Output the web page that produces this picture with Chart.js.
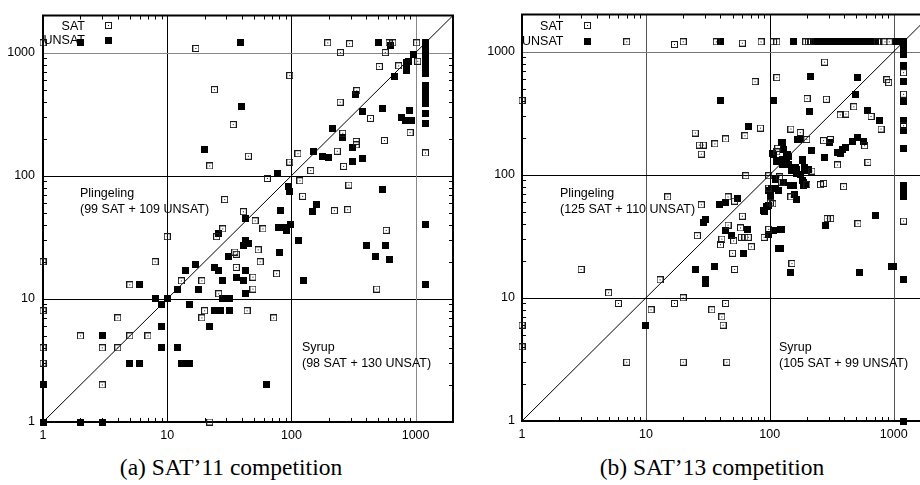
<!DOCTYPE html>
<html><head><meta charset="utf-8">
<script src="https://cdn.jsdelivr.net/npm/chart.js@4.4.0/dist/chart.umd.min.js"></script>
<style>
html,body{margin:0;padding:0;background:#fff;overflow:hidden;width:920px;height:485px;}
canvas{position:absolute;top:0;}
#c1{left:0;}
#c2{left:460px;}
.cap{position:absolute;font-family:"Liberation Serif","Times New Roman",serif;font-size:23.5px;color:#000;white-space:nowrap;transform:translate(-50%,-50%);}
</style></head><body>
<canvas id="c1" width="460" height="450"></canvas>
<canvas id="c2" width="478" height="450"></canvas>
<div class="cap" style="left:231px;top:467px;">(a) SAT’11 competition</div>
<div class="cap" style="left:712px;top:467px;">(b) SAT’13 competition</div>
<script>
// ---- axis ticks ----
const axisTicks = [1, 10, 100, 1000];
const tickLabels = ['1', '10', '100', '1000'];
const axisMin = 1, axisMax = 2000;
const diagonal = [[1, 1], [2000, 2000]];

// ---- SAT'11 ----
const sat11 = [[1,1200],[17,1080],[196,1200],[294,1180],[248,1000],[611,1200],[656,1200],[570,1000],[1020,1200],
[1040,850],[730,780],[510,770],[97,650],[24,500],[34,260],[22,120],[45,144],[336,490],[247,395],[433,292],[903,224],
[561,193],[259,221],[332,190],[332,178],[234,158],[263,119],[113,151],[97,129],[143,110],[64,95],[117,91],[290,84],
[123,68],[29,64],[222,52],[284,53],[41,51],[51,43],[1200,153],[28,37],[25,32],[10,32],[59,37],[54,25],[35,24],[36,23],
[56,20],[36,18],[8,20],[1,20],[49,15],[19,14],[13,14],[5,13],[26,11],[49,12],[1,8],[20,8],[44,8],[19,7],[72,7],[4,7],
[2,5],[5,5],[7,5],[1,4],[3,4],[4,4],[1,3],[3,2],[22,1],[580,36],[486,12],[76,16]];
const unsat11 = [[2,1200],[39,1200],[507,1200],[630,1150],[960,960],[850,820],[880,850],[850,720],[680,645],[840,830],
[40,363],[20,162],[328,455],[376,330],[544,352],[900,337],[764,298],[827,280],[930,280],[216,243],[259,205],[309,168],
[151,158],[179,144],[200,141],[376,137],[313,131],[77,104],[95,81],[96,74],[538,77],[158,58],[149,51],[81,52],[43,45],
[26,34],[79,38],[88,38],[91,36],[98,40],[114,30],[43,30],[45,28],[41,27],[31,22],[80,24],[17,19],[24,18],[26,17],[43,17],
[14,17],[36,15],[41,14],[28,14],[6,13],[12,12],[18,12],[43,11],[8,10],[10,10],[28,10],[32,10],[9,9],[15,9],[24,8],[27,8],
[32,8],[9,6],[22,6],[3,5],[9,4],[12,4],[5,3],[6,3],[13,3],[14,3],[15,3],[1,2],[63,2],[1,1],[2,1],[3,1],[1200,40],[571,27],
[400,27],[474,22],[614,21],[1200,13],[125,14],
[1200,1200],[1200,1150],[1200,1100],[1200,1050],[1200,1000],[1200,950],[1200,900],[1200,850],[1200,800],[1200,750],
[1200,700],[1200,670],[1200,540],[1200,510],[1200,480],[1200,450],[1200,420],[1200,400],[1200,385],[1200,320],[1200,266]];

// ---- SAT'13 ----
const sat13 = [[7,1200],[17,1140],[20,1200],[37,1200],[60,1170],[85,1200],[107,1200],[114,1200],[195,1200],[205,1200],
[215,1200],[740,1200],[850,1200],[920,1200],[1,400],[277,820],[880,590],[910,560],[1200,674],[1200,450],[1200,250],
[76,570],[114,614],[200,415],[286,410],[476,356],[370,306],[411,311],[656,297],[790,235],[148,235],[176,220],[199,193],
[271,189],[308,193],[582,172],[352,120],[620,126],[84,239],[63,207],[44,195],[36,178],[25,218],[27,174],[29,174],[28,147],
[116,164],[114,153],[64,98],[98,98],[120,96],[125,87],[98,78],[106,58],[101,59],[148,66],[199,83],[219,107],[272,85],[256,83],
[394,80],[15,66],[28,57],[46,66],[52,61],[60,46],[46,39],[58,37],[41,30],[40,27],[51,29],[59,31],[63,31],[67,31],[71,26],
[50,23],[90,31],[98,36],[26,32],[52,17],[13,14],[3,17],[5,11],[6,9],[1,6],[1,4],[7,3],[20,3],[45,3],[11,8],[17,9],[20,10],
[34,8],[41,7],[42,6],[44,9],[151,19],[290,44],[310,44],[515,40],[1200,42]];
const unsat13 = [[40,1200],[156,1200],[225,1200],[234,1200],[245,1200],[256,1200],[268,1200],[280,1200],[293,1200],
[306,1200],[320,1200],[335,1200],[350,1200],[366,1200],[383,1200],[400,1200],[418,1200],[437,1200],[457,1200],[478,1200],
[500,1200],[523,1200],[547,1200],[572,1200],[598,1200],[625,1200],[653,1200],[683,1200],[714,1200],[1050,1200],[1110,1200],
[1160,1200],[1200,1200],[1200,1150],[1200,1100],[1200,1060],[1200,1020],[1200,980],[1200,940],[1200,764],[1200,570],
[1200,393],[1200,274],[1200,228],[1200,164],[1200,82],[1200,76],[1200,71],[1200,66],[1200,14],[1200,1],
[212,625],[515,620],[490,445],[210,326],[615,330],[770,274],[176,197],[304,183],[461,186],[512,201],[567,186],[408,167],
[383,159],[350,152],[370,149],[216,157],[277,138],[40,398],[107,403],[67,247],[106,149],[114,129],[125,183],[140,146],
[127,122],[136,124],[118,75],[111,77],[98,75],[89,51],[94,55],[151,108],[165,111],[182,130],[176,101],[194,108],[188,87],
[206,111],[188,81],[156,81],[147,81],[159,69],[165,63],[104,77],[102,68],[97,56],[90,50],[111,91],[130,87],[55,64],[39,57],
[44,60],[30,43],[29,41],[44,35],[49,32],[66,36],[97,33],[107,35],[123,36],[118,25],[61,23],[25,17],[36,18],[30,14],[30,13],
[10,6],[146,16],[283,39],[715,47],[530,16],[990,18],[960,18],[125,36],[123,25],[168,193],[127,183],[130,161],[107,147],
[142,141],[114,130],[137,121],[161,108],[170,193],[137,143],[127,134],[142,122],[161,115],[182,134],[190,115],[199,108],
[163,102],[182,89],[195,84]];

// ---- labels ----
const legendLabels = ['SAT', 'UNSAT'];
const panelNotes11 = [['Plingeling', '(99 SAT + 109 UNSAT)'], ['Syrup', '(98 SAT + 130 UNSAT)']];
const panelNotes13 = [['Plingeling', '(125 SAT + 110 UNSAT)'], ['Syrup', '(105 SAT + 99 UNSAT)']];

// ---- marker images ----
function openMarker() {
  const c = document.createElement('canvas'); c.width = 7; c.height = 7;
  const g = c.getContext('2d');
  g.strokeStyle = '#1a1a1a'; g.lineWidth = 1; g.strokeRect(0.5, 0.5, 6, 6);
  g.fillStyle = '#1a1a1a'; g.fillRect(3, 3, 1, 1);
  return c;
}
function filledMarker() {
  const c = document.createElement('canvas'); c.width = 7; c.height = 7;
  const g = c.getContext('2d');
  g.fillStyle = '#000'; g.fillRect(0, 0, 7, 7);
  return c;
}
const openImg = openMarker(), fillImg = filledMarker();
const FONT = '12.5px "Liberation Sans", Arial, Helvetica, sans-serif';

function framePlugin(cfg) {
  return {
    id: 'frame',
    beforeDatasetsDraw(chart) {
      const { ctx, chartArea: a, scales: { x, y } } = chart;
      ctx.save();
      ctx.lineWidth = 1;
      [10, 100, 1000].forEach((v, i) => {
        const px = Math.round(x.getPixelForValue(v)) + 0.5;
        ctx.strokeStyle = cfg.gx[i];
        ctx.beginPath(); ctx.moveTo(px, a.top); ctx.lineTo(px, a.bottom); ctx.stroke();
        const py = Math.round(y.getPixelForValue(v)) + 0.5;
        ctx.strokeStyle = cfg.gy[i];
        ctx.beginPath(); ctx.moveTo(a.left, py); ctx.lineTo(a.right, py); ctx.stroke();
      });
      ctx.strokeStyle = '#000';
      const L = 4;
      [1, 10, 100, 1000].forEach(d => {
        for (let m = 2; m <= 9; m++) {
          const v = d * m;
          if (v >= axisMax) continue;
          const px = Math.round(x.getPixelForValue(v)) + 0.5;
          ctx.beginPath();
          ctx.moveTo(px, a.bottom); ctx.lineTo(px, a.bottom - L);
          ctx.moveTo(px, a.top); ctx.lineTo(px, a.top + L);
          ctx.stroke();
          const py = Math.round(y.getPixelForValue(v)) + 0.5;
          ctx.beginPath();
          ctx.moveTo(a.left, py); ctx.lineTo(a.left + L, py);
          ctx.moveTo(a.right, py); ctx.lineTo(a.right - L, py);
          ctx.stroke();
        }
      });
      ctx.lineWidth = 2;
      ctx.strokeStyle = '#000';
      ctx.strokeRect(a.left, a.top, a.right - a.left, a.bottom - a.top);
      ctx.restore();
    },
    afterDraw(chart) {
      const { ctx, chartArea: a } = chart;
      ctx.save();
      ctx.font = FONT;
      ctx.fillStyle = '#000';
      ctx.textBaseline = 'alphabetic';
      ctx.textAlign = 'right';
      ctx.fillText(legendLabels[0], a.left + cfg.legX, 29.5);
      ctx.fillText(legendLabels[1], a.left + cfg.legX, cfg.leg2);
      ctx.drawImage(openImg, Math.round(a.left + cfg.legM - 3.5), Math.round(25 - 3.5));
      ctx.drawImage(fillImg, Math.round(a.left + cfg.legM - 3.5), Math.round(cfg.leg2 - 4 - 3.5));
      ctx.textAlign = 'left';
      const n = cfg.notes;
      ctx.fillText(n[0][0], a.left + cfg.n1x, 197);
      ctx.fillText(n[0][1], a.left + cfg.n1x, 212.5);
      ctx.fillText(n[1][0], a.left + cfg.n2x, 351);
      ctx.fillText(n[1][1], a.left + cfg.n2x, 366.5);
      ctx.restore();
    }
  };
}

function pts(arr) { return arr.map(([x, y]) => ({ x, y })); }

function makeChart(id, sat, unsat, cfg) {
  const fontCfg = { family: '"Liberation Sans", Arial, Helvetica, sans-serif', size: 12.5 };
  return new Chart(document.getElementById(id), {
    type: 'scatter',
    data: {
      datasets: [
        { label: legendLabels[0], data: pts(sat), pointStyle: openImg, pointRadius: 3.5, pointHoverRadius: 3.5, order: 1, clip: false },
        { label: legendLabels[1], data: pts(unsat), pointStyle: fillImg, pointRadius: 3.5, pointHoverRadius: 3.5, order: 2, clip: false },
        { type: 'line', label: 'diag', data: pts(diagonal), borderColor: '#000', borderWidth: 1, pointRadius: 0, order: 3, fill: false }
      ]
    },
    options: {
      responsive: false, animation: false, events: [],
      layout: { padding: { left: 0, right: 7, top: cfg.top, bottom: 0 } },
      plugins: { legend: { display: false }, tooltip: { enabled: false } },
      scales: {
        x: {
          type: 'logarithmic', min: axisMin, max: axisMax,
          grid: { display: false, drawTicks: false }, border: { display: false },
          afterBuildTicks(s) { s.ticks = axisTicks.map(v => ({ value: v })); },
          ticks: { callback: (v, i) => tickLabels[i], color: '#000', font: fontCfg, padding: cfg.xpad, maxRotation: 0, autoSkip: false },
          afterFit(s) { s.height = cfg.xh; }
        },
        y: {
          type: 'logarithmic', min: axisMin, max: axisMax,
          grid: { display: false, drawTicks: false }, border: { display: false },
          afterBuildTicks(s) { s.ticks = axisTicks.map(v => ({ value: v })); },
          ticks: { callback: (v, i) => tickLabels[i], color: '#000', font: fontCfg, padding: cfg.ypad, autoSkip: false },
          afterFit(s) { s.width = cfg.yw; }
        }
      }
    },
    plugins: [framePlugin(cfg)]
  });
}

makeChart('c1', sat11, unsat11, {
  top: 13, xh: 28, yw: 43, xpad: 6, ypad: 8,
  gx: ['#000', '#000', '#888'], gy: ['#000', '#000', '#888'],
  legX: 42, legM: 65, leg2: 44, notes: panelNotes11, n1x: 37, n2x: 259
});
makeChart('c2', sat13, unsat13, {
  top: 13, xh: 29, yw: 62, xpad: 6, ypad: 7,
  gx: ['#555', '#000', '#555'], gy: ['#000', '#000', '#777'],
  legX: 41.5, legM: 65, leg2: 45, notes: panelNotes13, n1x: 38, n2x: 257
});
</script>
</body></html>
